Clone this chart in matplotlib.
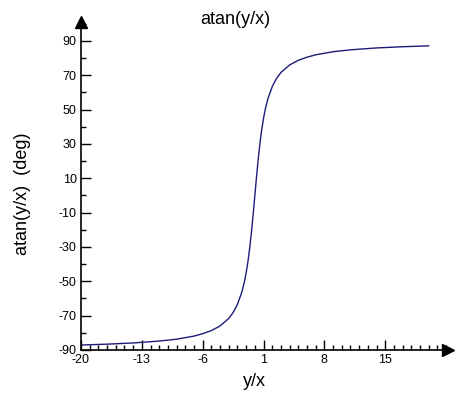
import numpy as np
import matplotlib.pyplot as plt
from matplotlib.ticker import MultipleLocator

plt.rcParams['font.family'] = ['Liberation Sans', 'DejaVu Sans']
plt.rcParams['axes.unicode_minus'] = False

# values
ratio = [-20, -17, -14, -11, -9, -7, -6, -5, -4, -3, -2.5, -2, -1.5, -1.2, -1,
         -0.8, -0.6, -0.4, -0.2, 0, 0.2, 0.4, 0.6, 0.8, 1, 1.2, 1.5, 2, 2.5,
         3, 4, 5, 6, 7, 9, 11, 14, 17, 20]
angle = [-87.1, -86.6, -85.9, -84.8, -83.7, -81.9, -80.5, -78.7, -76.0, -71.6,
         -68.2, -63.4, -56.3, -50.2, -45.0, -38.7, -31.0, -21.8, -11.3, 0.0,
         11.3, 21.8, 31.0, 38.7, 45.0, 50.2, 56.3, 63.4, 68.2, 71.6, 76.0,
         78.7, 80.5, 81.9, 83.7, 84.8, 85.9, 86.6, 87.1]
xticks = [-20, -13, -6, 1, 8, 15]
yticks = [-90, -70, -50, -30, -10, 10, 30, 50, 70, 90]

fig = plt.figure(figsize=(4.68, 4.0), dpi=100)
ax = fig.add_axes([0.173, 0.125, 0.784, 0.82])

ax.plot(ratio, angle, color='#1c1c78', lw=1.0)

ax.set_xlim(-20, 22.2)
ax.set_ylim(-90, 101)
ax.set_xticks(xticks)
ax.set_yticks(yticks)
ax.xaxis.set_minor_locator(MultipleLocator(1))
ax.yaxis.set_minor_locator(MultipleLocator(10))
ax.tick_params(which='major', direction='in', length=7, width=1, labelsize=9, pad=3)
ax.tick_params(which='minor', direction='in', length=3.5, width=1)
for s in ['top', 'right']:
    ax.spines[s].set_visible(False)
for s in ['left', 'bottom']:
    ax.spines[s].set_linewidth(1.2)

# arrow heads at the axis ends
ax.plot(1, 0, '>', color='k', ms=8, transform=ax.transAxes, clip_on=False)
ax.plot(0, 1, '^', color='k', ms=8, transform=ax.transAxes, clip_on=False)

fig.text(235 / 468, 1 - 20 / 400, 'atan(y/x)', fontsize=13, ha='center', va='center')
fig.text(254 / 468, 1 - 382 / 400, 'y/x', fontsize=13, ha='center', va='center')
fig.text(23 / 468, 1 - 194 / 400, 'atan(y/x)  (deg)', fontsize=13, rotation=90,
         ha='center', va='center')

fig.savefig('out.png', dpi=100)
